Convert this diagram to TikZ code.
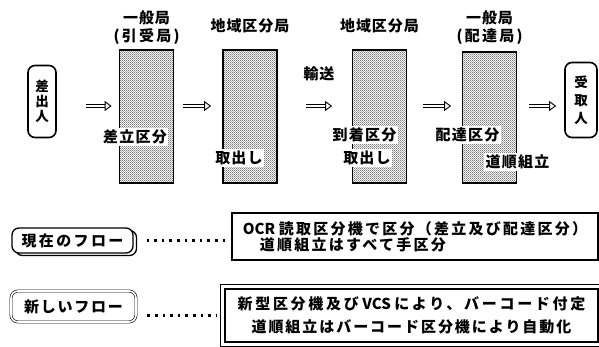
\documentclass[tikz,border=0pt]{standalone}
\usepackage{fontspec}
\setmainfont{Noto Sans CJK JP}
\usetikzlibrary{arrows.meta, patterns.meta, shadows, calc, positioning}
\newcommand\spc[1]{\addfontfeature{LetterSpace=#1}}
\tikzdeclarepattern{name=halftone, type=uncolored,
  bounding box={(0pt,0pt) and (2.2pt,2.2pt)}, tile size={(2.2pt,2.2pt)},
  code={\fill (0.55pt,0.55pt) circle (0.55pt); \fill (1.65pt,1.65pt) circle (0.55pt);}}

\begin{document}
\begin{tikzpicture}[x=1pt,y=-1pt,
  font=\bfseries\fontsize{15}{16}\selectfont,
  office/.style={rectangle,draw,line width=1.7pt,pattern=halftone,pattern color=black!90,minimum width=54pt,minimum height=133pt,inner sep=0pt},
  party/.style={rectangle,draw,line width=1.6pt,rounded corners=7pt,minimum width=28pt,minimum height=72pt,align=center,inner sep=0pt,font=\bfseries\fontsize{13.5}{15}\selectfont},
  lbl/.style={fill=white,inner sep=1.5pt,font=\bfseries\fontsize{15}{16}\selectfont\spc{8}},
  head/.style={align=center,inner sep=0pt,font=\bfseries\fontsize{15}{18}\selectfont\spc{6}},
  hollow/.style={draw,line width=0.9pt,double distance=2.4pt,-{Triangle[open,length=7pt,width=10pt,line width=0.9pt]}},
  flow/.style={rectangle,draw,fill=white,rounded corners=7pt,line width=1.3pt,minimum width=121pt,minimum height=25pt,font=\bfseries\fontsize{15}{16}\selectfont\spc{16}},
  note/.style={rectangle,draw,line width=1.6pt,inner sep=0pt},
  dotline/.style={line width=2.6pt,dash pattern=on 2.6pt off 5pt}
]
  \useasboundingbox (0,0) rectangle (599,347);

  % upper flow
  \node[party] (snd) at (42,101.5) {差\\出\\人};
  \node[office](b1)  at (146.5,116.5) {};
  \node[office](b2)  at (250,116.5) {};
  \node[office](b3)  at (379.5,116.5) {};
  \node[office,minimum height=131pt](b4) at (489.5,117.5) {};
  \node[party,minimum width=32pt,minimum height=75pt,font=\bfseries\fontsize{13.5}{18}\selectfont] (rcv) at (581,100) {受\\取\\人};

  \node[head] (h1) at (146.5,28) {一般局\\{\spc{15}(引受局)}};
  \node[head] (h2) at (250,26) {地域区分局};
  \node[head] (h3) at (379.5,26) {地域区分局};
  \node[head] (h4) at (489.5,28) {一般局\\{\spc{15}(配達局)}};

  \node[lbl] (l1)  at (135,137) {差立区分};
  \node[lbl] (l2)  at (239,158) {取出し};
  \node[head](tr)  at (319,74)  {輸送};
  \node[lbl] (l3a) at (364.5,135) {到着区分};
  \node[lbl] (l3b) at (367,158) {取出し};
  \node[lbl] (l4a) at (467.5,135) {配達区分};
  \node[lbl] (l4b) at (517.5,162) {道順組立};

  \draw[hollow,shorten <=29pt,shorten >=7pt]([yshift=-4.5pt]snd.east)--([yshift=10.5pt]b1.west);
  \draw[hollow,shorten <=9pt,shorten >=11pt]([yshift=10.5pt]b1.east)--([yshift=10.5pt]b2.west);
  \draw[hollow,shorten <=28pt,shorten >=19.5pt]([yshift=10.5pt]b2.east)--([yshift=10.5pt]b3.west);
  \draw[hollow,shorten <=16pt,shorten >=10.5pt]([yshift=10.5pt]b3.east)--([yshift=11.5pt]b4.west);
  \draw[hollow,shorten <=11.5pt,shorten >=8pt]([yshift=11.5pt]b4.east)--([yshift=-6pt]rcv.west);

  % current and new flow
  \node[flow,general shadow={shadow xshift=3.5pt,shadow yshift=-2.5pt,draw,line width=1.3pt,fill=white,rounded corners=7pt}] (cur) at (72.5,240.5) {現在のフロー};
  \node[flow,line width=0.6pt,double,double distance=1.6pt,minimum width=125pt,minimum height=31pt,font=\bfseries\fontsize{15}{16}\selectfont\spc{12}] (neu) at (73.5,306.5) {新しいフロー};

  \node[note,minimum width=366pt,minimum height=47pt,align=left] (cbox) at (415,236.5)
    {OCR\ {\spc{15}読取区分機で区分（差立及び配達区分）}\\\hspace*{17pt}{\spc{15}道順組立はすべて手区分}};
  \node[note,minimum width=373pt,minimum height=53pt,align=center,font=\bfseries\fontsize{15}{23}\selectfont] (nbox) at (411.5,315.5)
    {{\spc{18}新型区分機及び}\ VCS\ {\spc{18}により、バーコード付定}\\{\spc{13}道順組立はバーコード区分機により自動化}};
  \draw[line width=0.6pt] ($(nbox.north west)+(-4,-4)$) rectangle ($(nbox.south east)+(4,3)$);

  \draw[dotline,shorten <=13pt,shorten >=4pt](cur.east)--(cur.east -| cbox.west);
  \draw[dotline,shorten <=11pt,shorten >=7pt](neu.east |- nbox.west)--(nbox.west);
\end{tikzpicture}
\end{document}
